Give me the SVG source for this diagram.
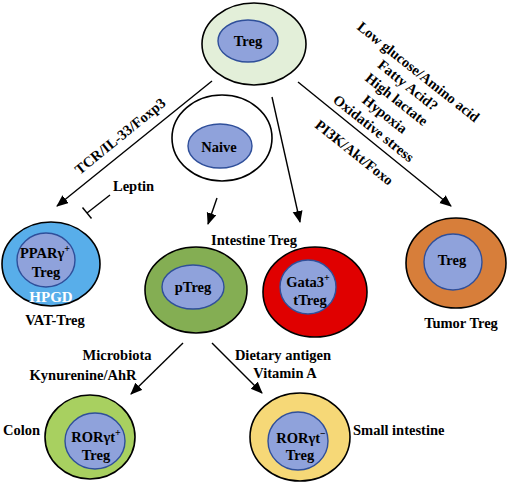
<svg xmlns="http://www.w3.org/2000/svg" width="510" height="484" viewBox="0 0 510 484">
<defs>
<style>
text{font-family:"Liberation Serif","Times New Roman",serif;font-weight:bold;font-size:14.5px;fill:#000}
.outer{stroke:#000;stroke-width:1.6}
.inner{fill:#8FA2DB;stroke:#2F4F9A;stroke-width:1.4}
.c{text-anchor:middle}
.ln{stroke:#000;stroke-width:1.4;fill:none}
.sup{font-size:10px}
</style>
<marker id="ah" markerUnits="userSpaceOnUse" markerWidth="14" markerHeight="12" refX="11" refY="5" orient="auto">
<path d="M0,0 L12,5 L0,10 Z" fill="#000"/>
</marker>
</defs>
<rect width="510" height="484" fill="#fff"/>

<g id="connectors">
<line class="ln" x1="212" y1="81" x2="57" y2="206" marker-end="url(#ah)"/>
<line class="ln" x1="272" y1="97" x2="300" y2="222" marker-end="url(#ah)"/>
<line class="ln" x1="298" y1="82" x2="451" y2="206" marker-end="url(#ah)"/>
<line class="ln" x1="217" y1="198" x2="208" y2="224" marker-end="url(#ah)"/>
<line class="ln" x1="110" y1="195" x2="87" y2="213"/>
<line class="ln" x1="82.5" y1="207.5" x2="91.5" y2="218.5"/>
<line class="ln" x1="183" y1="343" x2="131" y2="394" marker-end="url(#ah)"/>
<line class="ln" x1="212" y1="343" x2="262" y2="393" marker-end="url(#ah)"/>
<text transform="translate(120,136) rotate(-39)" class="c" y="5">TCR/IL-33/Foxp3</text>
<text x="113" y="191">Leptin</text>
<g transform="translate(298,82) rotate(38.5)">
<text class="c" x="88" y="-78">Low glucose/Amino  acid</text>
<text class="c" x="88" y="-61">Fatty Acid?</text>
<text class="c" x="88" y="-43">High lactate</text>
<text class="c" x="88" y="-24">Hypoxia</text>
<text class="c" x="88" y="-6">Oxidative stress</text>
<text class="c" x="88" y="25">PI3K/Akt/Foxo</text>
</g>
<text class="c" x="117" y="360">Microbiota</text>
<text class="c" x="83" y="380">Kynurenine/AhR</text>
<text class="c" x="283" y="360">Dietary  antigen</text>
<text class="c" x="285" y="378">Vitamin  A</text>
</g>

<g id="treg-top">
<ellipse class="outer" cx="254" cy="44" rx="52" ry="41" fill="#E3EFD9"/>
<ellipse class="inner" cx="248" cy="41" rx="30" ry="21"/>
<text class="c" x="248" y="46">Treg</text>
</g>

<g id="naive">
<ellipse class="outer" cx="222" cy="138" rx="50" ry="43" fill="#fff"/>
<ellipse class="inner" cx="220" cy="146" rx="32" ry="22"/>
<text class="c" x="219" y="152">Naive</text>
</g>

<g id="vat-treg">
<ellipse class="outer" cx="51" cy="264" rx="49" ry="42" fill="#58AEEA"/>
<ellipse class="inner" cx="46" cy="260" rx="29" ry="27"/>
<text class="c" x="45" y="258">PPARγ<tspan class="sup" dy="-6">+</tspan></text>
<text class="c" x="46" y="277">Treg</text>
<text class="c" x="51" y="302" style="fill:#fff;font-size:15px">HPGD</text>
<text class="c" x="55" y="325">VAT-Treg</text>
</g>

<g id="intestine-label">
<text class="c" x="254" y="245">Intestine Treg</text>
</g>

<g id="ptreg">
<ellipse class="outer" cx="196" cy="290" rx="51" ry="43" fill="#84AE53"/>
<ellipse class="inner" cx="193" cy="287" rx="31" ry="22"/>
<text class="c" x="193" y="292">pTreg</text>
</g>

<g id="gata3-ttreg">
<ellipse class="outer" cx="315" cy="292" rx="52" ry="45" fill="#E00000"/>
<ellipse class="inner" cx="308" cy="287" rx="28" ry="27"/>
<text class="c" x="308" y="287">Gata3<tspan class="sup" dy="-6">+</tspan></text>
<text class="c" x="310" y="305">tTreg</text>
</g>

<g id="tumor-treg">
<ellipse class="outer" cx="456" cy="263" rx="50" ry="45" fill="#D77E3A"/>
<ellipse class="inner" cx="453" cy="262" rx="29" ry="28"/>
<text class="c" x="452" y="265">Treg</text>
<text class="c" x="461" y="328">Tumor Treg</text>
</g>

<g id="colon-treg">
<ellipse class="outer" cx="90" cy="437" rx="45" ry="42" fill="#A8D060"/>
<ellipse class="inner" cx="95" cy="441" rx="30" ry="28"/>
<text class="c" x="96" y="442">RORγt<tspan class="sup" dy="-6">+</tspan></text>
<text class="c" x="96" y="460">Treg</text>
<text x="3" y="435">Colon</text>
</g>

<g id="small-intestine-treg">
<ellipse class="outer" cx="300" cy="437" rx="50" ry="44" fill="#F6D877"/>
<ellipse class="inner" cx="298" cy="441" rx="30" ry="29"/>
<text class="c" x="301" y="443">RORγt<tspan class="sup" dy="-6">−</tspan></text>
<text class="c" x="300" y="460">Treg</text>
<text x="353" y="435">Small intestine</text>
</g>
</svg>
